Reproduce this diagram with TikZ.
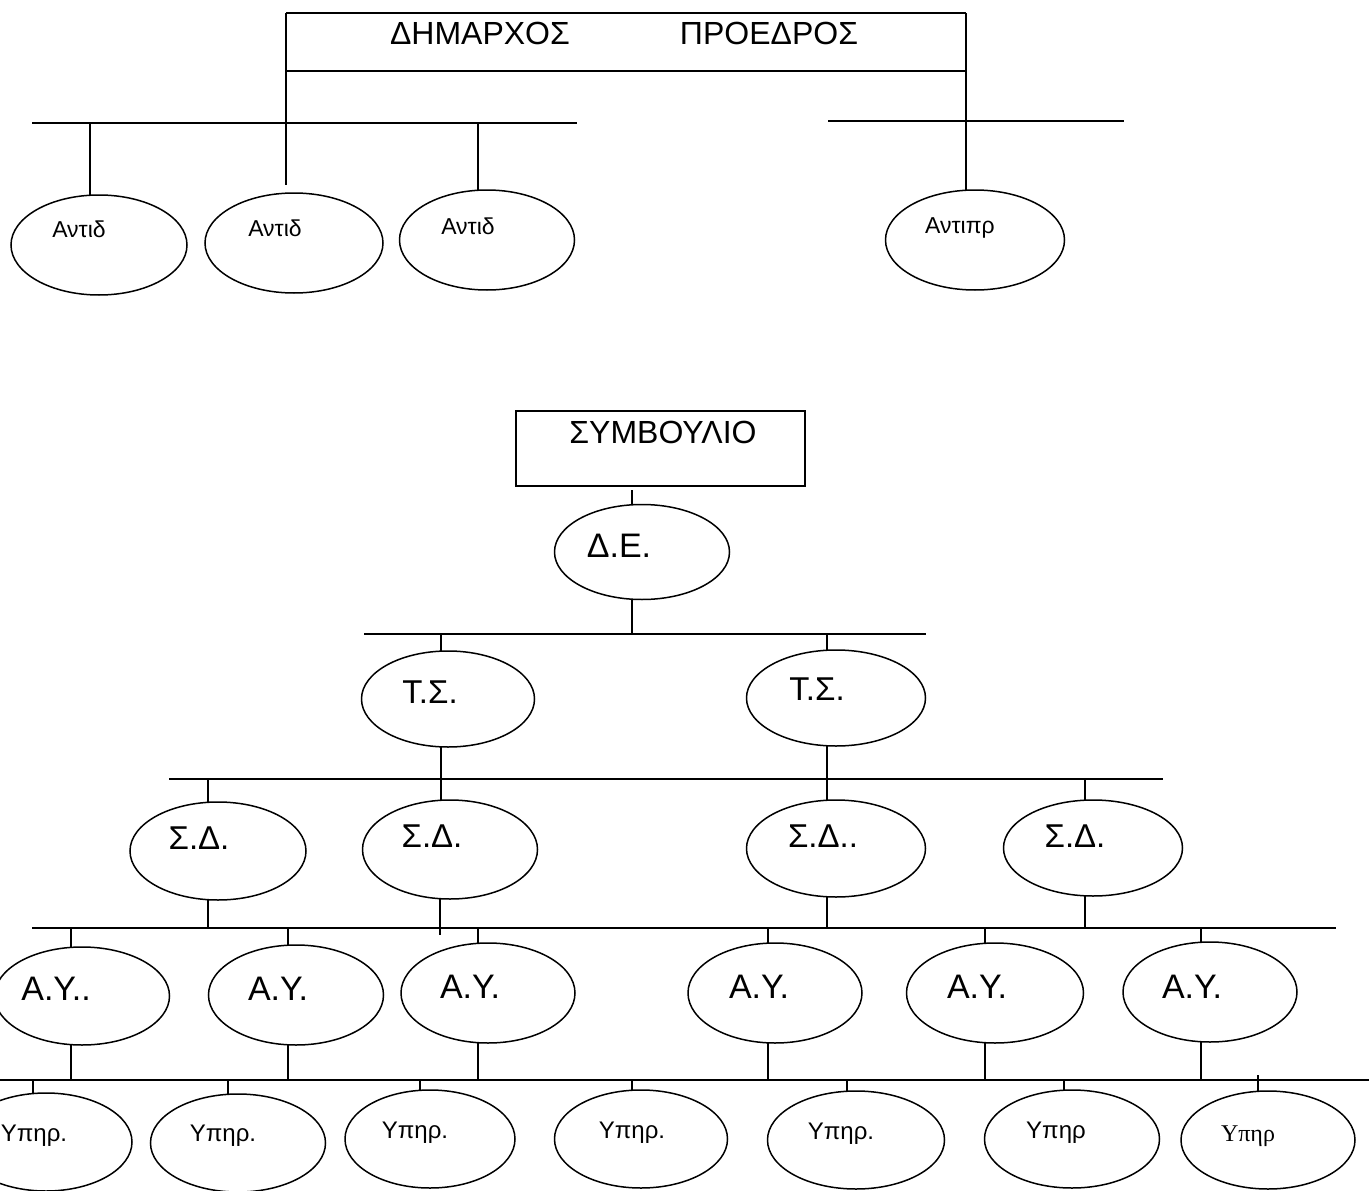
\documentclass[tikz,border=0pt]{standalone}
\usepackage{fontspec}
\setmainfont{Liberation Sans}
\newfontfamily\serifgr{Liberation Serif}
\usetikzlibrary{shapes.geometric}
\begin{document}
\begin{tikzpicture}[x=1pt,y=-1pt,line width=1.5pt,
  oval/.style={draw,ellipse,inner sep=0pt,outer sep=0pt},
  box/.style={draw,rectangle,inner sep=0pt,outer sep=0pt},
  lbl/.style={inner sep=0pt,anchor=base},
  huge/.style={font=\fontsize{32}{32}\selectfont},
  mid/.style={font=\fontsize{33}{33}\selectfont},
  ayf/.style={font=\fontsize{34}{34}\selectfont},
  small/.style={font=\fontsize{23}{23}\selectfont},
  tiny/.style={font=\fontsize{24}{24}\selectfont}]
\useasboundingbox (0,0) rectangle (1369,1191);
\clip (0,0) rectangle (1369,1191);

% ---------- top section ----------
\coordinate (tl) at (286,13);
\coordinate (tr) at (966,13);
\coordinate (bl) at (286,71);
\coordinate (br) at (966,71);
\coordinate (lend) at (286,185);
\node[lbl,huge] (dim) at (480,45) {ΔΗΜΑΡΧΟΣ};
\node[lbl,huge] (pro) at (769,45) {ΠΡΟΕΔΡΟΣ};

\node[oval,minimum width=176pt,minimum height=100pt] (a1) at (99,245) {};
\node[oval,minimum width=178pt,minimum height=100pt] (a2) at (294,243) {};
\node[oval,minimum width=175pt,minimum height=100pt] (a3) at (487,240) {};
\node[oval,minimum width=179pt,minimum height=100pt] (ap) at (975,240) {};
\node[lbl,small] (ta1) at (79,237) {Αντιδ};
\node[lbl,small] (ta2) at (275,236) {Αντιδ};
\node[lbl,small] (ta3) at (468,234) {Αντιδ};
\node[lbl,small] (tap) at (960,233) {Αντιπρ};

\draw (tl) -- (tr);
\draw (bl) -- (br);
\draw (tl) -- (lend);
\draw (tr) -- (tr |- ap.north);

\coordinate (b0l) at (32,123);
\coordinate (b0r) at (577,123);
\draw (b0l) -- (b0r);
\coordinate (b0a) at (90,123);
\coordinate (b0b) at (478,123);
\draw (b0a) -- (b0a |- a1.north);
\draw (b0b) -- (b0b |- a3.north);

\coordinate (b1l) at (828,121);
\coordinate (b1r) at (1124,121);
\draw (b1l) -- (b1r);

% ---------- bottom section ----------
\node[box,minimum width=289pt,minimum height=75pt] (sym) at (660.5,448.5) {};
\node[lbl,huge] (tsym) at (663,443) {ΣΥΜΒΟΥΛΙΟ};

\node[oval,minimum width=175pt,minimum height=95pt] (de) at (642,552) {};
\node[lbl,ayf] (tde) at (619,557) {Δ.Ε.};
\coordinate (tick) at (632,490);
\draw (tick) -- (tick |- de.north);

\coordinate (bus1l) at (364,634);
\coordinate (bus1r) at (926,634);
\draw (bus1l) -- (bus1r);
\coordinate (dd) at (632,634);
\draw (dd |- de.south) -- (dd);

\node[oval,minimum width=173pt,minimum height=96pt] (ts1) at (448,699) {};
\node[oval,minimum width=179pt,minimum height=96pt] (ts2) at (836,698) {};
\node[lbl,mid] (tts1) at (430,703) {Τ.Σ.};
\node[lbl,mid] (tts2) at (817,700) {Τ.Σ.};
\coordinate (t1x) at (441,634);
\coordinate (t2x) at (827,634);
\draw (t1x) -- (t1x |- ts1.north);
\draw (t2x) -- (t2x |- ts2.north);

\coordinate (bus2l) at (169,779);
\coordinate (bus2r) at (1163,779);
\draw (bus2l) -- (bus2r);

\node[oval,minimum width=176pt,minimum height=98pt] (sd1) at (218,851) {};
\node[oval,minimum width=175pt,minimum height=99pt] (sd2) at (450,849.5) {};
\node[oval,minimum width=179pt,minimum height=97pt] (sd3) at (836,848.5) {};
\node[oval,minimum width=179pt,minimum height=96pt] (sd4) at (1093,848) {};
\node[lbl,mid] (tsd1) at (199,849) {Σ.Δ.};
\node[lbl,mid] (tsd2) at (432,847) {Σ.Δ.};
\node[lbl,mid] (tsd3) at (823,847) {Σ.Δ..};
\node[lbl,mid] (tsd4) at (1075,847) {Σ.Δ.};

\coordinate (s1x) at (208,779);
\coordinate (s4x) at (1085,779);
\draw (t1x |- ts1.south) -- (t1x |- sd2.north);
\draw (t2x |- ts2.south) -- (t2x |- sd3.north);
\draw (s1x) -- (s1x |- sd1.north);
\draw (s4x) -- (s4x |- sd4.north);

\coordinate (bus3l) at (32,928);
\coordinate (bus3r) at (1336,928);
\draw (bus3l) -- (bus3r);
\draw (s1x |- sd1.south) -- (s1x |- bus3l);
\coordinate (s2x) at (440,935);
\draw (s2x |- sd2.south) -- (s2x);
\draw (t2x |- sd3.south) -- (t2x |- bus3l);
\draw (s4x |- sd4.south) -- (s4x |- bus3l);

\node[oval,minimum width=175pt,minimum height=98pt] (ay1) at (82,996) {};
\node[oval,minimum width=175pt,minimum height=100pt] (ay2) at (296,995) {};
\node[oval,minimum width=174pt,minimum height=100pt] (ay3) at (488,993) {};
\node[oval,minimum width=174pt,minimum height=100pt] (ay4) at (775,993) {};
\node[oval,minimum width=177pt,minimum height=100pt] (ay5) at (995,993) {};
\node[oval,minimum width=174pt,minimum height=100pt] (ay6) at (1210,992) {};
\node[lbl,ayf] (tay1) at (56,1000) {Α.Υ..};
\node[lbl,ayf] (tay2) at (278,1000) {Α.Υ.};
\node[lbl,ayf] (tay3) at (470,998) {Α.Υ.};
\node[lbl,ayf] (tay4) at (759,998) {Α.Υ.};
\node[lbl,ayf] (tay5) at (977,998) {Α.Υ.};
\node[lbl,ayf] (tay6) at (1192,998) {Α.Υ.};

\coordinate (bus4l) at (0,1080);
\coordinate (bus4r) at (1369,1080);
\draw (bus4l) -- (bus4r);

\foreach \n/\x in {ay1/71,ay2/288,ay3/478,ay4/768,ay5/985,ay6/1201}{
  \draw (\x,928) -- (\x,0 |- \n.north);
  \draw (\x,0 |- \n.south) -- (\x,1080);
}

\node[oval,minimum width=172pt,minimum height=98pt] (yp1) at (46,1142) {};
\node[oval,minimum width=175pt,minimum height=98pt] (yp2) at (238,1143) {};
\node[oval,minimum width=170pt,minimum height=98pt] (yp3) at (430,1139) {};
\node[oval,minimum width=173pt,minimum height=98pt] (yp4) at (641,1139) {};
\node[oval,minimum width=177pt,minimum height=98pt] (yp5) at (856,1140) {};
\node[oval,minimum width=175pt,minimum height=98pt] (yp6) at (1072,1139) {};
\node[oval,minimum width=174pt,minimum height=98pt] (yp7) at (1268,1140) {};
\node[lbl,tiny] (typ1) at (34,1141) {Υπηρ.};
\node[lbl,tiny] (typ2) at (223,1141) {Υπηρ.};
\node[lbl,tiny] (typ3) at (415,1138) {Υπηρ.};
\node[lbl,tiny] (typ4) at (632,1138) {Υπηρ.};
\node[lbl,tiny] (typ5) at (841,1139) {Υπηρ.};
\node[lbl,tiny] (typ6) at (1056,1138) {Υπηρ};
\node[lbl,font=\serifgr\fontsize{24}{24}\selectfont] (typ7) at (1248,1141) {Υπηρ};

\foreach \n/\x in {yp1/33,yp2/228,yp3/420,yp4/632,yp5/847,yp6/1064}{
  \draw (\x,1080) -- (\x,0 |- \n.north);
}
\coordinate (y7top) at (1258,1075);
\draw (y7top) -- (y7top |- yp7.north);
\end{tikzpicture}
\end{document}
